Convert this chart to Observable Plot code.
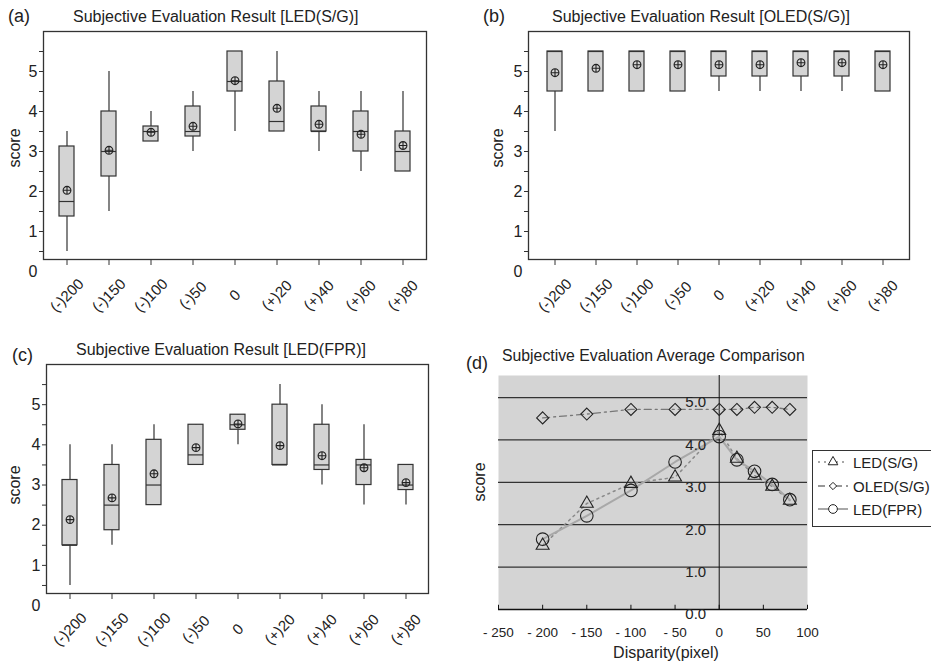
<!DOCTYPE html>
<html><head><meta charset="utf-8">
<script src="https://cdn.jsdelivr.net/npm/d3@7"></script>
<script src="https://cdn.jsdelivr.net/npm/@observablehq/plot@0.6"></script>
<style>
body{margin:0;width:931px;height:669px;overflow:hidden;background:#fff;font-family:"Liberation Sans",Arial,sans-serif;color:#222;position:relative}
.abs{position:absolute;line-height:1;white-space:nowrap}
.panel{position:absolute}
</style></head><body>
<script>
// ---------- data ----------
const cats = ["(-)200","(-)150","(-)100","(-)50","0","(+)20","(+)40","(+)60","(+)80"];

// (a) LED(S/G)
const aMin  = [0.5, 1.5, 3.25, 3.0, 3.5, 3.5, 3.0, 2.5, 2.5];
const aQ1   = [1.375, 2.375, 3.25, 3.375, 4.5, 3.5, 3.5, 3.0, 2.5];
const aMed  = [1.75, 3.0, 3.5, 3.5, 4.75, 3.75, 3.5, 3.5, 3.0];
const aQ3   = [3.125, 4.0, 3.625, 4.125, 5.5, 4.75, 4.125, 4.0, 3.5];
const aMax  = [3.5, 5.0, 4.0, 4.5, 5.5, 5.5, 4.5, 4.5, 4.5];
const aMean = [2.03, 3.03, 3.48, 3.63, 4.77, 4.08, 3.68, 3.43, 3.15];

// (b) OLED(S/G)
const bMin  = [3.5, 4.5, 4.5, 4.5, 4.5, 4.5, 4.5, 4.5, 4.5];
const bQ1   = [4.5, 4.5, 4.5, 4.5, 4.875, 4.875, 4.875, 4.875, 4.5];
const bMed  = [5.5, 5.5, 5.5, 5.5, 5.5, 5.5, 5.5, 5.5, 5.5];
const bQ3   = [5.5, 5.5, 5.5, 5.5, 5.5, 5.5, 5.5, 5.5, 5.5];
const bMax  = [5.5, 5.5, 5.5, 5.5, 5.5, 5.5, 5.5, 5.5, 5.5];
const bMean = [4.97, 5.08, 5.17, 5.17, 5.17, 5.17, 5.22, 5.22, 5.17];

// (c) LED(FPR)
const cMin  = [0.5, 1.5, 2.5, 3.5, 4.0, 3.5, 3.0, 2.5, 2.5];
const cQ1   = [1.5, 1.875, 2.5, 3.5, 4.375, 3.5, 3.375, 3.0, 2.875];
const cMed  = [1.5, 2.5, 3.0, 3.75, 4.5, 3.5, 3.5, 3.5, 3.0];
const cQ3   = [3.125, 3.5, 4.125, 4.5, 4.75, 5.0, 4.5, 3.625, 3.5];
const cMax  = [4.0, 4.0, 4.5, 4.5, 4.75, 5.5, 5.0, 4.5, 3.5];
const cMean = [2.14, 2.68, 3.28, 3.93, 4.52, 3.98, 3.73, 3.43, 3.06];

// (d) averages
const disparity  = [-200, -150, -100, -50, 0, 20, 40, 60, 80];
const avgLED_SG  = [1.51, 2.50, 2.97, 3.12, 4.22, 3.56, 3.16, 2.90, 2.57];
const avgOLED_SG = [4.52, 4.61, 4.72, 4.72, 4.72, 4.72, 4.77, 4.77, 4.72];
const avgLED_FPR = [1.66, 2.21, 2.81, 3.48, 4.08, 3.53, 3.26, 2.95, 2.59];
const seriesNames = ["LED(S/G)", "OLED(S/G)", "LED(FPR)"];
const dXTicks = [-250, -200, -150, -100, -50, 0, 50, 100];
const dYTicks = [0, 1, 2, 3, 4, 5];
const boxYTicks = [0.5, 1, 1.5, 2, 2.5, 3, 3.5, 4, 4.5, 5, 5.5];
const boxYLabels = [0, 1, 2, 3, 4, 5];

// ---------- helpers ----------
const FONT = '"Liberation Sans", Arial, sans-serif';
function txt(s, x, y, size, opt = {}) {
  const d = document.createElement("div");
  d.className = "abs";
  d.textContent = s;
  d.style.left = x + "px";
  d.style.top = y + "px";
  d.style.fontSize = size + "px";
  const ax = opt.anchor === "middle" ? "-50%" : "0";
  d.style.transform = `translate(${ax},-50%)`;
  if (opt.rotate) { d.style.transform = `translate(-50%,-50%) rotate(${opt.rotate}deg)`; }
  document.body.appendChild(d);
  return d;
}
function place(node, x, y) {
  const w = document.createElement("div");
  w.className = "panel";
  w.style.left = x + "px"; w.style.top = y + "px";
  w.appendChild(node);
  document.body.appendChild(w);
}
const crossCircle = {
  draw(ctx, size) {
    const r = Math.sqrt(size / Math.PI);
    ctx.moveTo(r, 0); ctx.arc(0, 0, r, 0, 2 * Math.PI);
    ctx.moveTo(-r, 0); ctx.lineTo(r, 0);
    ctx.moveTo(0, -r); ctx.lineTo(0, r);
  }
};

function boxPanel(mn, q1, md, q3, mx, mean, g) {
  const rows = cats.map((c, i) => ({cat: c, min: mn[i], q1: q1[i], med: md[i], q3: q3[i], max: mx[i], mean: mean[i]}));
  return Plot.plot({
    width: g.width, height: g.height,
    marginLeft: g.ml, marginRight: g.mr, marginTop: g.mt, marginBottom: g.mb,
    style: {fontFamily: FONT, color: "#222", background: "transparent", overflow: "visible"},
    x: {type: "band", domain: cats, paddingInner: 0.645, paddingOuter: 0.37, label: null, axis: null},
    y: {domain: [0.3, 6.0], label: null, axis: null},
    marks: [
      Plot.ruleX(rows, {x: "cat", y1: "min", y2: "max", stroke: "#333", strokeWidth: 1.2}),
      Plot.barY(rows, {x: "cat", y1: "q1", y2: "q3", fill: "#d4d4d4", stroke: "#333", strokeWidth: 1.2}),
      Plot.tickY(rows, {x: "cat", y: "med", stroke: "#333", strokeWidth: 1.2}),
      Plot.dot(rows, {x: "cat", y: "mean", symbol: crossCircle, r: 3.9, stroke: "#222", fill: "none", strokeWidth: 1.1}),
      Plot.frame({stroke: "#333", strokeWidth: 1.3}),
      Plot.axisY(boxYTicks, {tickSize: 4, tickPadding: 2, tickFormat: () => "", stroke: "#333", label: null}),
      Plot.axisY(boxYLabels, {tickSize: 0, tickPadding: 6, fontSize: 16, label: null}),
      Plot.axisX({tickSize: 6, tickFormat: () => "", stroke: "#333", label: null}),
      Plot.text(cats, {x: d => d, frameAnchor: "bottom", dy: 36, rotate: -45, fontSize: 15, textAnchor: "middle", lineAnchor: "middle", fill: "#222"})
    ]
  });
}

// ---------- panels a, b, c ----------
place(boxPanel(aMin, aQ1, aMed, aQ3, aMax, aMean, {width: 465, height: 330, ml: 43, mr: 39, mt: 31, mb: 71}), 0, 0);
place(boxPanel(bMin, bQ1, bMed, bQ3, bMax, bMean, {width: 466, height: 330, ml: 63, mr: 22, mt: 31, mb: 71}), 465, 0);
place(boxPanel(cMin, cQ1, cMed, cQ3, cMax, cMean, {width: 465, height: 339, ml: 46, mr: 37, mt: 34, mb: 76}), 0, 330);

// ---------- panel d ----------
const styles = [
  {stroke: "#8a8a8a", dash: "2,4", sw: 1.5, symbol: "triangle", r: 4.8},
  {stroke: "#777", dash: "7,4,2,4", sw: 1.3, symbol: "diamond2", r: 5.4},
  {stroke: "#a8a8a8", dash: null, sw: 2, symbol: "circle", r: 6.3}
];
const seriesVals = [avgLED_SG, avgOLED_SG, avgLED_FPR];
const seriesRows = seriesVals.map(v => disparity.map((x, i) => ({x, y: v[i]})));
const dMarks = [
  Plot.frame({fill: "#d4d4d4", stroke: "none"}),
  Plot.ruleY(dYTicks.filter(d => d > 0), {stroke: "#333", strokeWidth: 1.2}),
  Plot.ruleX([0], {stroke: "#111", strokeWidth: 1}),
  Plot.ruleY([0], {stroke: "#111", strokeWidth: 1.6}),
  Plot.ruleX(dXTicks, {x: d => d, y1: 0, y2: 0.1, stroke: "#111"})
];
seriesRows.forEach((rows, k) => {
  const s = styles[k];
  dMarks.push(Plot.line(rows, {x: "x", y: "y", stroke: s.stroke, strokeWidth: s.sw, strokeDasharray: s.dash}));
});
seriesRows.forEach((rows, k) => {
  const s = styles[k];
  dMarks.push(Plot.dot(rows, {x: "x", y: "y", symbol: s.symbol, r: s.r, stroke: "#222", fill: "none", strokeWidth: 1.1}));
});
dMarks.push(Plot.text(dYTicks, {x: 0, y: d => d, text: d => d.toFixed(1), textAnchor: "end", dx: -13, dy: 5, fontSize: 15, fill: "#222"}));
dMarks.push(Plot.axisX(dXTicks, {tickSize: 0, tickPadding: 18, fontSize: 13.5, label: null, tickFormat: d => d < 0 ? "- " + (-d) : String(d)}));
place(Plot.plot({
  width: 466, height: 339, marginLeft: 33, marginRight: 124, marginTop: 45, marginBottom: 60,
  style: {fontFamily: FONT, color: "#222", background: "transparent", overflow: "visible"},
  x: {domain: [-250, 100], label: null, axis: null}, y: {domain: [0, 5.52], label: null, axis: null},
  marks: dMarks
}), 465, 330);

// ---------- legend (d) ----------
const leg = document.createElement("div");
leg.style.cssText = "position:absolute;left:812px;top:450px;width:140px;height:77px;border:1px solid #333;background:#fff;box-sizing:border-box";
document.body.appendChild(leg);
const legY = [11, 35, 58];
const symPaths = [d3.symbol(d3.symbolTriangle, 40)(), d3.symbol(d3.symbolDiamond2, 34)(), d3.symbol(d3.symbolCircle, 60)()];
seriesNames.forEach((name, k) => {
  const s = styles[k];
  const svg = d3.create("svg").attr("width", 34).attr("height", 18)
    .style("position", "absolute").style("left", "5px").style("top", (legY[k] - 9) + "px");
  svg.append("line").attr("x1", 0).attr("x2", 30).attr("y1", 9).attr("y2", 9)
    .attr("stroke", s.stroke).attr("stroke-width", s.sw).attr("stroke-dasharray", s.dash);
  svg.append("path").attr("d", symPaths[k]).attr("transform", "translate(15,9)")
    .attr("fill", "#fff").attr("stroke", "#222");
  leg.appendChild(svg.node());
  const t = document.createElement("div");
  t.className = "abs"; t.textContent = name;
  t.style.cssText += `left:40px;top:${legY[k]}px;font-size:15px;transform:translateY(-50%)`;
  leg.appendChild(t);
});

// ---------- titles & labels ----------
txt("(a)", 8, 16, 18);
txt("Subjective Evaluation Result [LED(S/G)]", 73, 17, 16);
txt("(b)", 483, 16, 18);
txt("Subjective Evaluation Result [OLED(S/G)]", 552, 17, 16);
txt("(c)", 12, 355, 18);
txt("Subjective Evaluation Result [LED(FPR)]", 76, 350, 16);
txt("(d)", 466, 363, 18);
txt("Subjective Evaluation Average Comparison", 502, 356, 15.8);
txt("score", 15, 148, 16, {rotate: -90});
txt("score", 498, 148, 16, {rotate: -90});
txt("score", 15, 485, 16, {rotate: -90});
txt("score", 480, 482, 16, {rotate: -90});
txt("Disparity(pixel)", 666, 653, 16, {anchor: "middle"});
</script>
</body></html>
